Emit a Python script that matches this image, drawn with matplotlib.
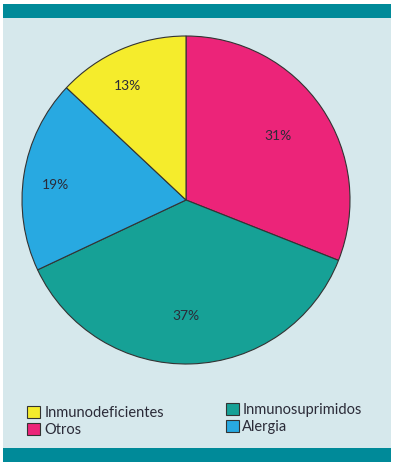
import matplotlib.pyplot as plt
import numpy as np
from matplotlib.patches import Rectangle, Patch

# datos del gráfico
categorias = ["Otros", "Inmunosuprimidos", "Alergia", "Inmunodeficientes"]
porcentajes = [31, 37, 19, 13]
colores = ["#ec2479", "#16a196", "#28a9e1", "#f5ec2c"]
etiquetas = ["31%", "37%", "19%", "13%"]
# posición de las etiquetas: distancia al centro y giro respecto a la bisectriz
dist_etiqueta = [0.68, 0.71, 0.80, 0.78]
giro_etiqueta = [0.6, -1.8, 2.4, 3.6]

col1 = ["Inmunodeficientes", "Otros"]
col2 = ["Inmunosuprimidos", "Alergia"]

W, H = 395, 467
fondo = "#d6e8ec"
barra = "#008a99"

fig = plt.figure(figsize=(W / 100, H / 100), dpi=100)
fig.patch.set_facecolor("white")

# panel de fondo y barras superior / inferior
fig.patches.append(Rectangle((3 / W, 1 - 462 / H), 388 / W, 458 / H,
                             transform=fig.transFigure, facecolor=fondo, edgecolor="none", zorder=-2))
fig.patches.append(Rectangle((3 / W, 1 - 18 / H), 388 / W, 14 / H,
                             transform=fig.transFigure, facecolor=barra, edgecolor="none", zorder=-1))
fig.patches.append(Rectangle((3 / W, 1 - 462 / H), 388 / W, 14 / H,
                             transform=fig.transFigure, facecolor=barra, edgecolor="none", zorder=-1))

# pastel
cx, cy, r = 186, 200, 164
ax = fig.add_axes([(cx - r) / W, 1 - (cy + r) / H, 2 * r / W, 2 * r / H])
ax.set_zorder(5)
ax.set_facecolor("none")
wedges, _ = ax.pie(porcentajes, colors=colores, startangle=90, counterclock=False,
                   wedgeprops=dict(edgecolor="#333333", linewidth=0.8))
ax.set_xlim(-1, 1)
ax.set_ylim(-1, 1)
ax.set_aspect("equal")
ax.axis("off")

for w, txt, d, g in zip(wedges, etiquetas, dist_etiqueta, giro_etiqueta):
    ang = np.deg2rad((w.theta1 + w.theta2) / 2 + g)
    ax.text(d * np.cos(ang), d * np.sin(ang), txt, ha="center", va="center",
            fontsize=10, color="#2b2b38", family="Lato")

# leyenda en dos columnas
def handles(nombres):
    return [Patch(facecolor=colores[categorias.index(n)], edgecolor="#333333", linewidth=0.8)
            for n in nombres]

fig.legend(handles(col1), col1, loc="upper left", bbox_to_anchor=(14 / W, 1 - 393 / H),
           frameon=False, handlelength=0.85, handleheight=0.85, handletextpad=0.35,
           labelspacing=0.2, prop=dict(family="Lato", size=10.5), labelcolor="#2b2b38")
fig.legend(handles(col2), col2, loc="upper left", bbox_to_anchor=(213 / W, 1 - 390 / H),
           frameon=False, handlelength=0.85, handleheight=0.85, handletextpad=0.25,
           labelspacing=0.2, prop=dict(family="Lato", size=10.5), labelcolor="#2b2b38")

fig.savefig("out.png", dpi=100)
